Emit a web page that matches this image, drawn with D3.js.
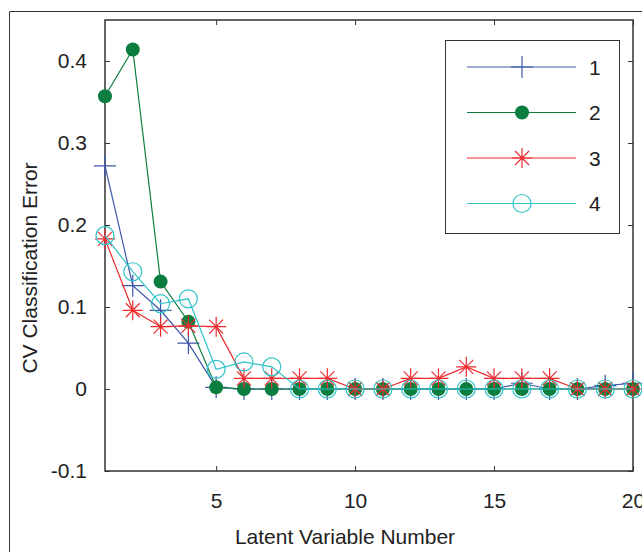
<!DOCTYPE html>
<html lang="en">
<head>
    <meta charset="UTF-8">
    <title>CV Classification Error</title>
    <style>
        body { margin: 0; background: #fff; }
        text { font-family: "Liberation Sans", Arial, sans-serif; fill: #222; }
    </style>
</head>
<body>
<svg id="chart" width="642" height="552"></svg>
<script src="https://d3js.org/d3.v7.min.js"></script>
<script>
    /* global d3 */

    // latent variable numbers 1..20
    let lvs = [1, 2, 3, 4, 5, 6, 7, 8, 9, 10, 11, 12, 13, 14, 15, 16, 17, 18, 19, 20];

    let err1 = [0.272, 0.126, 0.096, 0.056, 0.002, 0, 0, 0, 0, 0, 0, 0, 0, 0, 0, 0.007, 0, 0, 0.004, 0.007];
    let err2 = [0.357, 0.414, 0.131, 0.082, 0.002, 0, 0, 0, 0, 0, 0, 0, 0, 0, 0, 0, 0, 0, 0, 0];
    let err3 = [0.183, 0.096, 0.076, 0.077, 0.076, 0.013, 0.013, 0.013, 0.013, 0, 0, 0.013, 0.013, 0.027, 0.013, 0.013, 0.013, 0, 0, 0];
    let err4 = [0.187, 0.143, 0.104, 0.110, 0.024, 0.033, 0.027, 0, 0, 0, 0, 0, 0, 0, 0, 0, 0, 0, 0, 0];

    let seriesNames = ["1", "2", "3", "4"];
    let xTicks = [5, 10, 15, 20];
    let yTicks = [-0.1, 0, 0.1, 0.2, 0.3, 0.4];

    let series = [
        {name: seriesNames[0], values: err1, color: "#3b57aa", marker: "plus"},
        {name: seriesNames[1], values: err2, color: "#0b7d3e", marker: "dot"},
        {name: seriesNames[2], values: err3, color: "#ee2b2e", marker: "star"},
        {name: seriesNames[3], values: err4, color: "#2ec3c6", marker: "circle"}
    ];

    let svg = d3.select("#chart"),
        pLeft = 105, pRight = 633, pTop = 20, pBottom = 471,
        fontSize = "21px",
        x = d3.scaleLinear().domain([1, 20]).range([pLeft, pRight]),
        y = d3.scaleLinear().domain([-0.1, 0.45]).range([pBottom, pTop]);

    // outer figure frame
    svg.append("path")
        .attr("d", "M9.5,560 V11.5 H650")
        .attr("fill", "none")
        .attr("stroke", "#333")
        .attr("stroke-width", 1);

    let fmt = d => d === 0 ? "0" : String(d);

    function styleAxis(g) {
        g.select(".domain").remove();
        g.selectAll("line").attr("stroke", "#333");
        g.selectAll("text").style("font-size", fontSize).attr("fill", "#222");
    }

    svg.append("g")
        .attr("transform", "translate(0," + pBottom + ")")
        .call(d3.axisBottom(x).tickValues(xTicks).tickSize(-5).tickPadding(22).tickFormat(fmt))
        .call(styleAxis);
    svg.append("g")
        .attr("transform", "translate(0," + pTop + ")")
        .call(d3.axisTop(x).tickValues(xTicks).tickSize(-5).tickFormat(""))
        .call(styleAxis);
    svg.append("g")
        .attr("transform", "translate(" + pLeft + ",0)")
        .call(d3.axisLeft(y).tickValues(yTicks).tickSize(-5).tickPadding(18).tickFormat(fmt))
        .call(styleAxis);
    svg.append("g")
        .attr("transform", "translate(" + pRight + ",0)")
        .call(d3.axisRight(y).tickValues(yTicks).tickSize(-5).tickFormat(""))
        .call(styleAxis);

    // plot box
    svg.append("rect")
        .attr("x", pLeft).attr("y", pTop)
        .attr("width", pRight - pLeft).attr("height", pBottom - pTop)
        .attr("fill", "none").attr("stroke", "#333").attr("stroke-width", 1.5);

    let line = d3.line()
        .x((d, i) => x(lvs[i]))
        .y(d => y(d));

    function drawMarker(g, kind, color) {
        if (kind === "plus") {
            g.append("path").attr("d", "M-11,0H11M0,-11V11")
                .attr("stroke", color).attr("stroke-width", 1.2).attr("fill", "none");
        } else if (kind === "dot") {
            g.append("circle").attr("r", 7).attr("fill", color);
        } else if (kind === "star") {
            g.append("path").attr("d", "M-10,0H10M0,-10V10M-7,-7L7,7M-7,7L7,-7")
                .attr("stroke", color).attr("stroke-width", 1.2).attr("fill", "none");
        } else {
            g.append("circle").attr("r", 9).attr("fill", "none")
                .attr("stroke", color).attr("stroke-width", 1.2);
        }
    }

    series.forEach(function (s) {
        let g = svg.append("g");
        g.append("path")
            .attr("d", line(s.values))
            .attr("fill", "none")
            .attr("stroke", s.color)
            .attr("stroke-width", 1.2);
        s.values.forEach(function (v, i) {
            let m = g.append("g").attr("transform", "translate(" + x(lvs[i]) + "," + y(v) + ")");
            drawMarker(m, s.marker, s.color);
        });
    });

    // legend
    let legend = svg.append("g");
    legend.append("rect")
        .attr("x", 445.5).attr("y", 40.5).attr("width", 174).attr("height", 193)
        .attr("fill", "#fff").attr("stroke", "#333").attr("stroke-width", 1);
    series.forEach(function (s, i) {
        let ly = 67 + i * 45.5;
        legend.append("line")
            .attr("x1", 467).attr("x2", 576).attr("y1", ly).attr("y2", ly)
            .attr("stroke", s.color).attr("stroke-width", 1.2);
        let m = legend.append("g").attr("transform", "translate(522," + ly + ")");
        drawMarker(m, s.marker, s.color);
        legend.append("text")
            .attr("x", 589).attr("y", ly).attr("dy", "0.36em")
            .style("font-size", fontSize)
            .text(s.name);
    });

    // axis titles
    svg.append("text")
        .attr("x", 345).attr("y", 544)
        .attr("text-anchor", "middle")
        .style("font-size", fontSize)
        .text("Latent Variable Number");
    svg.append("text")
        .attr("transform", "translate(37,268) rotate(-90)")
        .attr("text-anchor", "middle")
        .style("font-size", fontSize)
        .text("CV Classification Error");
</script>
</body>
</html>
